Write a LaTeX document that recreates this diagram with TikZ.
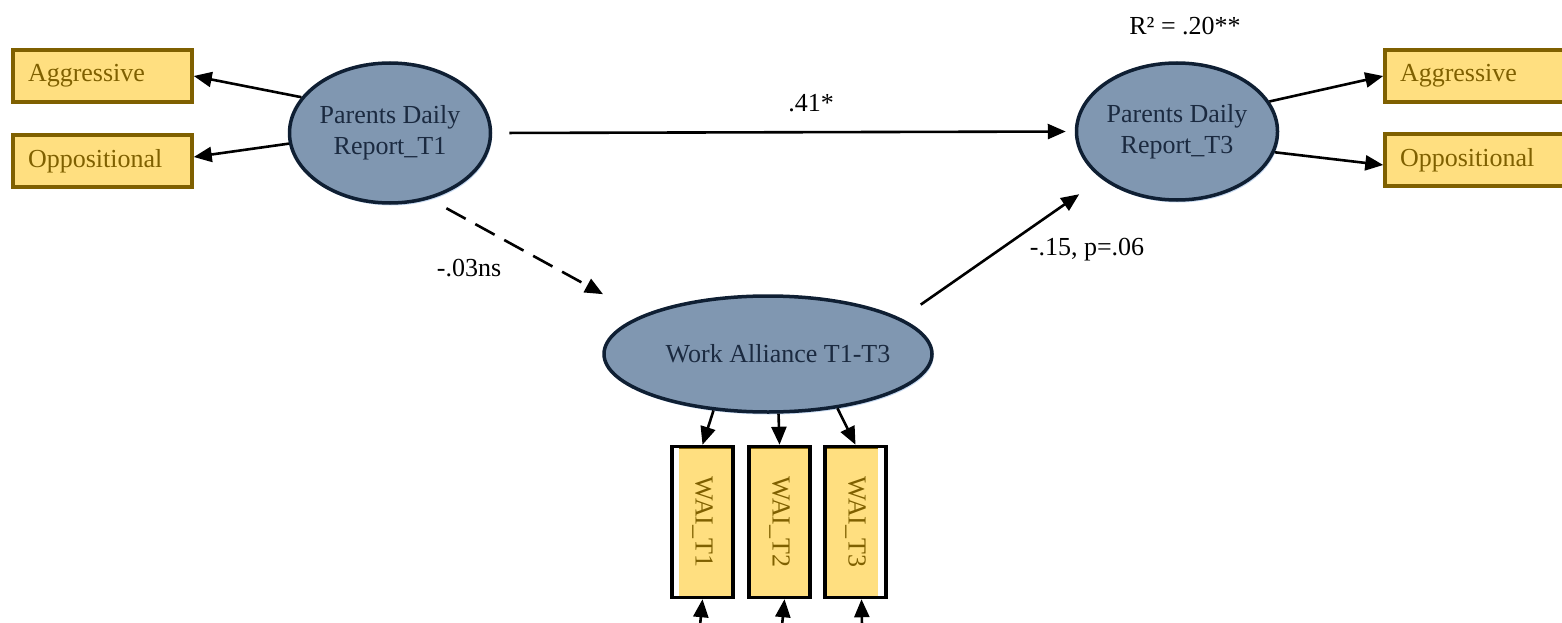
\documentclass[tikz,border=0pt]{standalone}
\usepackage{fontspec}
\setmainfont{Liberation Serif}
\usetikzlibrary{shapes.geometric,arrows.meta,shadows}
\definecolor{boxfill}{HTML}{FFDF80}
\definecolor{boxedge}{HTML}{7F6000}
\definecolor{latfill}{HTML}{8097B1}
\definecolor{latedge}{HTML}{0F1F33}
\definecolor{lattext}{HTML}{1B2A40}
\definecolor{latrim}{HTML}{C6D9F1}
\begin{document}
\begin{tikzpicture}[x=1pt,y=-1pt,
  every node/.style={font=\fontsize{26}{31}\selectfont},
  latent/.style={ellipse, draw=latedge, line width=3.5pt, fill=latfill, text=lattext,
    inner xsep=-10pt, inner ysep=0pt, align=center,
    drop shadow={shadow xshift=1.5pt, shadow yshift=-2.5pt, fill=latrim, opacity=1}},
  indic/.style={rectangle, draw=boxedge, line width=3.5pt, fill=boxfill, text=boxedge,
    inner xsep=15pt, inner ysep=0pt, minimum height=52pt, text width=149pt, align=left,
    drop shadow={shadow xshift=2pt, shadow yshift=-2pt, fill=black, opacity=1}},
  waibox/.style={rectangle, draw=black, line width=3.5pt, fill=boxfill, text=boxedge,
    inner sep=0pt, minimum width=61pt, minimum height=151pt},
  stripleft/.style={path picture={
    \fill[white] (path picture bounding box.north west) rectangle ([xshift=7pt]path picture bounding box.south west);
    \draw[boxedge, line width=3pt] ([xshift=7pt,yshift=-1pt]path picture bounding box.north west) -- ([yshift=-1pt]path picture bounding box.north east);}},
  stripright/.style={path picture={
    \fill[white] ([xshift=-8pt]path picture bounding box.north east) rectangle (path picture bounding box.south east);
    \draw[boxedge, line width=3pt] ([yshift=-1pt]path picture bounding box.north west) -- ([xshift=-8pt,yshift=-1pt]path picture bounding box.north east);}},
  stripnone/.style={path picture={
    \draw[boxedge, line width=3pt] ([yshift=-1pt]path picture bounding box.north west) -- ([yshift=-1pt]path picture bounding box.north east);}},
  arr/.style={line width=2.6pt, draw=black, -{Triangle[length=18pt,width=15pt]}},
  lbl/.style={text=black}
]
\useasboundingbox (0,0) rectangle (1562,623);

% latent variables
\node[latent, minimum width=201pt, minimum height=140pt] (pdr1) at (390,133) {Parents Daily\\Report\_T1};
\node[latent, minimum width=201pt, minimum height=137pt] (pdr3) at (1177,131.5) {Parents Daily\\Report\_T3};
\node[latent, inner xsep=-30pt, minimum width=328pt, minimum height=116pt] (wa) at (768,354) {\hspace*{20pt}Work Alliance T1-T3};

% indicators
\node[indic] (aggL) at (102.5,76) {Aggressive};
\node[indic] (oppL) at (102.5,161) {Oppositional};
\node[indic] (aggR) at (1474.5,76) {Aggressive};
\node[indic] (oppR) at (1474.5,160) {Oppositional};

\node[waibox, stripleft] (w1) at (702.5,522) {\rotatebox{-90}{WAI\_T1}};
\node[waibox, stripnone] (w2) at (779.5,522) {\rotatebox{-90}{WAI\_T2}};
\node[waibox, stripright] (w3) at (855.5,522) {\rotatebox{-90}{WAI\_T3}};

% free ends
\coordinate (e1) at (700,626);
\coordinate (e2) at (782,626);
\coordinate (e3) at (862,626);

% connectors
\draw[arr] (pdr1.158) -- (aggL.east);
\draw[arr] (pdr1.186) -- ([yshift=4pt]oppL.east);
\draw[arr] (pdr3.18) -- (aggR.west);
\draw[arr] (pdr3.-12) -- ([yshift=-5pt]oppR.west);

\draw[arr, shorten <=17pt, shorten >=9pt] (pdr1.east) -- (pdr3.west);
\draw[arr, dash pattern=on 22pt off 11pt, shorten <=19pt, shorten >=44pt] (pdr1.-59) -- (wa.163);
\draw[arr, shorten <=24pt, shorten >=27pt] (wa.15) -- (pdr3.212);

\draw[arr] (wa.-134) -- (w1.north);
\draw[arr] (wa.-80) -- (w2.north);
\draw[arr] (wa.-38) -- (w3.north);

\draw[arr] (e1) -- (w1.south);
\draw[arr] (e2) -- ([xshift=5pt]w2.south);
\draw[arr] (e3) -- ([xshift=6pt]w3.south);

% labels
\node[lbl] (l41) at (811,103) {.41*};
\node[lbl] (l03) at (469,268) {-.03ns};
\node[lbl] (l15) at (1087,250) {-.15, p=.06};
\node[lbl] (r2) at (1185,26) {R² = .20**};
\end{tikzpicture}
\end{document}
